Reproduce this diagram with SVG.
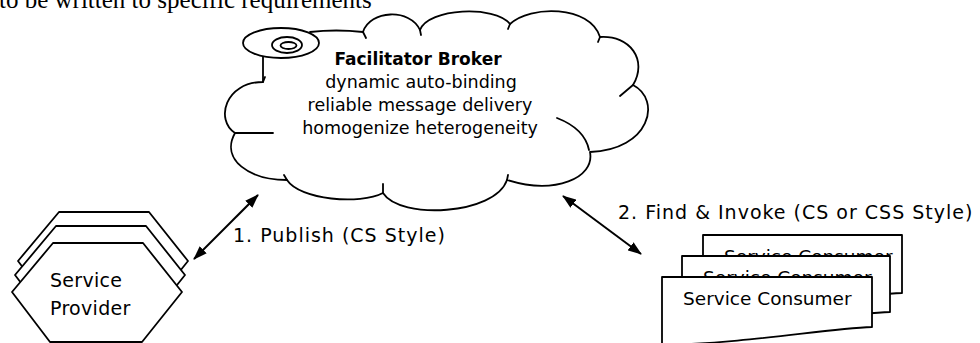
<svg xmlns="http://www.w3.org/2000/svg" width="980" height="343" viewBox="0 0 980 343">
<defs>
<style>
.ln{fill:#fff;stroke:#000;stroke-width:1.8;stroke-linejoin:round;stroke-linecap:round}
.tk{fill:none;stroke:#000;stroke-width:1.8;stroke-linecap:round}
.t{font-family:"DejaVu Sans",Verdana,sans-serif;fill:#000}
.cl{font-size:17.5px;text-anchor:middle}
.lb{font-size:19px;letter-spacing:1px}
.con{stroke:#000;stroke-width:2;fill:none;marker-start:url(#ah);marker-end:url(#ah)}
</style>
<marker id="ah" viewBox="0 0 14 10" refX="13" refY="5" markerWidth="14" markerHeight="10" markerUnits="userSpaceOnUse" orient="auto-start-reverse">
<path d="M0,0 L14,5 L0,10 Z" fill="#000"/>
</marker>
</defs>
<rect width="980" height="343" fill="#fff"/>
<text x="-1" y="8" style="font-family:'Liberation Serif','Times New Roman',serif;font-size:25px" fill="#000">to be written to specific requirements</text>

<g id="broker">
<path class="ln" d="M310,32 Q336,29 363,32 C370,10 410,8 420,30 C428,8 495,5 510,24 C530,5 590,5 600,37 C630,35 648,60 633,85 C662,100 650,150 590,152 C595,178 555,195 507,180 C495,215 400,220 383,193 C360,205 300,200 287,180 C250,180 220,160 235,133 C215,120 225,82 263,82 L263,57"/>
<path class="tk" d="M363,32 L366,38 M420,30 L421,35 M510,24 L508,29 M600,37 L598,42 M633,85 L620,96 M557,118 C575,125 586,135 589,150 M507,180 L508,175 M383,193 L383,184 M287,180 L284,175 M235,133 L273,133 M263,82 L265,77"/>
<ellipse class="ln" cx="281" cy="43" rx="38" ry="15"/>
<ellipse class="ln" cx="287" cy="45" rx="15" ry="8"/>
<ellipse class="ln" cx="288.5" cy="45.5" rx="8" ry="3.5"/>
<text class="t cl" x="418" y="65" style="font-weight:bold;font-size:17px">Facilitator Broker</text>
<text class="t cl" x="421" y="88">dynamic auto-binding</text>
<text class="t cl" x="420" y="111">reliable message delivery</text>
<text class="t cl" x="420" y="134">homogenize heterogeneity</text>
</g>

<g id="provider">
<polygon class="ln" points="59,212 149,212 188,261 148,311 56,311 18,261"/>
<polygon class="ln" points="56,226 146,226 185,275 145,325 53,325 15,275"/>
<polygon class="ln" points="53,243 143,243 182,292 142,342 50,342 12,292"/>
<text class="t" x="50" y="287" style="font-size:19px;letter-spacing:0.3px">Service</text>
<text class="t" x="50" y="315" style="font-size:19px;letter-spacing:0.3px">Provider</text>
</g>

<g id="consumer">
<path class="ln" d="M703,235 H902 V293 C852,295 782,309 703,311 Z"/>
<text class="t" x="724" y="263" style="font-size:18.5px">Service Consumer</text>
<path class="ln" d="M682,256 H890 V312 C840,314 770,328 682,330 Z"/>
<text class="t" x="703" y="284" style="font-size:18.5px">Service Consumer</text>
<path class="ln" d="M662,277 H872 V327 C822,329 752,343 662,345 Z"/>
<text class="t" x="683" y="305" style="font-size:18.5px">Service Consumer</text>
</g>

<g id="connectors">
<line class="con" x1="194" y1="259" x2="258" y2="195"/>
<line class="con" x1="563" y1="196" x2="641" y2="254"/>
<text class="t lb" x="233" y="242">1. Publish (CS Style)</text>
<text class="t lb" x="618" y="219">2. Find &amp; Invoke (CS or CSS Style)</text>
</g>
</svg>
